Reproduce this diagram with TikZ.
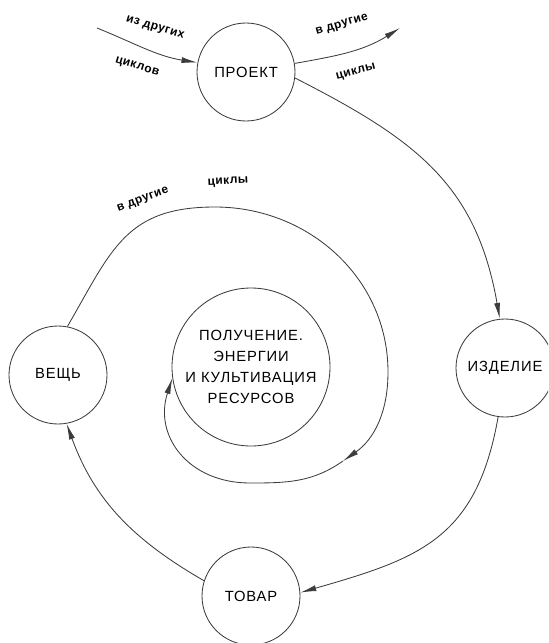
\documentclass[tikz,border=0pt]{standalone}
\usepackage{fontspec}
\setmainfont{Liberation Sans}
\usepackage{tikz}
\usetikzlibrary{arrows.meta}
\usepackage{xcolor}
\definecolor{Liniya}{RGB}{60,60,60}
\tikzset{%
  krug/.style    ={circle, draw=Liniya, line width=0.6pt, minimum size=2.45cm,
                   inner sep=0pt, font=\fontsize{10.5}{12}\selectfont\addfontfeatures{LetterSpace=6}},
  yadro/.style   ={krug, minimum size=3.95cm, align=center,
                   font=\fontsize{10.5}{15}\selectfont\addfontfeatures{LetterSpace=6}},
  podpis/.style  ={inner sep=1pt, font=\fontsize{8.5}{10}\selectfont\bfseries\addfontfeatures{LetterSpace=4}},
  strelka/.style ={-{Latex[length=4mm,width=1.5mm]}, line width=0.6pt, draw=Liniya},
  liniya/.style  ={-, line width=0.6pt, draw=Liniya}
}

\begin{document}
\begin{tikzpicture}
  \clip (0,0) rectangle (13.7,-16.075);
  \node[krug] (proekt) at (6.15,-1.8) {ПРОЕКТ};
  \node[krug] (izdelie) at (12.625,-9.2) {ИЗДЕЛИЕ};
  \node[krug] (tovar) at (6.275,-14.9) {ТОВАР};
  \node[krug] (vesch) at (1.45,-9.375) {ВЕЩЬ};
  \node[yadro] (istok) at (6.275,-9.175) {ПОЛУЧЕНИЕ.\\ЭНЕРГИИ\\И КУЛЬТИВАЦИЯ\\РЕСУРСОВ};
  % vhod i vyhod proekta
  \coordinate (vhod) at (2.425,-0.7);
  \coordinate (vyhod) at (10.0,-0.7);
  \draw[strelka] (vhod) to[out=-22,in=171] (proekt.169);
  \draw[strelka] (proekt.10) to[out=10,in=-148] (vyhod);
  \node[podpis, rotate=-17] (izdr) at (3.875,-0.7) {из других};
  \node[podpis, rotate=-17] (cikl1) at (3.425,-1.675) {циклов};
  \node[podpis, rotate=16] (vdr1) at (8.55,-0.625) {в другие};
  \node[podpis, rotate=15] (cikl2) at (8.9,-1.8) {циклы};
  % bolshoi cikl
  \draw[strelka] (proekt.-7) to[out=-27,in=100,looseness=1.1] (izdelie.96);
  \draw[strelka] (izdelie.-98) to[out=-100,in=16,looseness=1.2] (tovar.4);
  \draw[strelka] (tovar.162) to[out=150,in=-70] (vesch.-80);
  % spiral
  \coordinate (verh) at (5.375,-5.175);
  \coordinate (pravo) at (9.7,-9.3);
  \coordinate (metka) at (8.575,-11.525);
  \coordinate (niz) at (6.25,-12.075);
  \draw[liniya] (vesch.79) to[out=60,in=180,looseness=1.2] (verh) to[out=0,in=90] (pravo);
  \draw[strelka] (pravo) to[out=-90,in=35] (metka);
  \draw[strelka] (metka) to[out=215,in=0] (niz) to[out=180,in=-108,looseness=1.2] (istok.188);
  \node[podpis, rotate=20] (vdr2) at (3.575,-5.0) {в другие};
  \node[podpis, rotate=3] (cikl3) at (5.7,-4.55) {циклы};
\end{tikzpicture}
\end{document}
